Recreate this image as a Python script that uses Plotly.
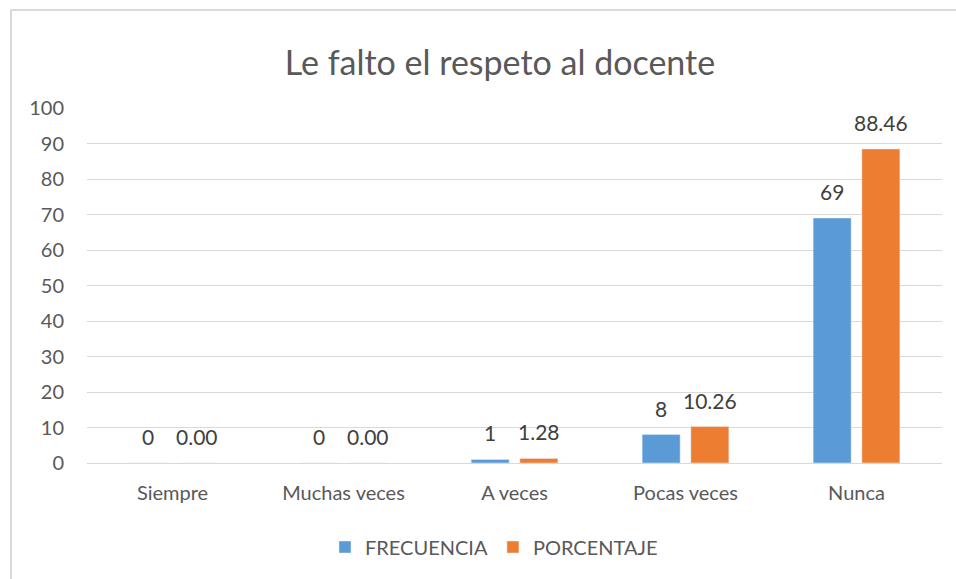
import plotly.graph_objects as go

categories = ["Siempre", "Muchas veces", "A veces", "Pocas veces", "Nunca"]
frecuencia = [0, 0, 1, 8, 69]
porcentaje = [0.00, 0.00, 1.28, 10.26, 88.46]

W, H = 956, 579
L, R, T, B = 87, 14, 108, 116
pw, ph = W - L - R, H - T - B

fig = go.Figure()
fig.add_trace(go.Bar(x=categories, y=frecuencia, name="FRECUENCIA", marker_color="#5b9bd5"))
fig.add_trace(go.Bar(x=categories, y=porcentaje, name="PORCENTAJE", marker_color="#ed7d31"))

# data labels sitting a bit above the bars, like Excel
slot = pw / len(categories) * (1 - 0.43) / 2
for vals, fmt, dx in [(frecuencia, "{:.0f}", -slot / 2), (porcentaje, "{:.2f}", slot / 2)]:
    for c, v in zip(categories, vals):
        fig.add_annotation(x=c, y=v, text=fmt.format(v), showarrow=False,
                           xshift=dx, yshift=12, yanchor="bottom",
                           font=dict(size=21, color="#404040"))

fig.update_layout(
    width=W, height=H,
    margin=dict(l=L, r=R, t=T, b=B),
    paper_bgcolor="white", plot_bgcolor="white",
    font=dict(family="Lato, Carlito, sans-serif", color="#595959", size=20),
    title=dict(text="Le falto el respeto al docente", x=500 / W, xref="container",
               xanchor="center", y=1 - 63 / H, yanchor="middle",
               font=dict(size=34, color="#595959")),
    barmode="group", bargap=0.43, bargroupgap=0.22,
    showlegend=True,
    legend=dict(orientation="h", x=(494 - L) / pw, xanchor="center", y=-(547 - 463) / ph,
                yanchor="middle", font=dict(size=20, color="#595959"),
                itemwidth=30, traceorder="normal"),
    xaxis=dict(showgrid=False, showline=False, ticks="", tickfont=dict(size=20),
               ticklabelstandoff=16),
    yaxis=dict(range=[0, 100], dtick=10, showgrid=True, gridcolor="#d9d9d9",
               gridwidth=1.3, zeroline=True, zerolinecolor="#d9d9d9", zerolinewidth=1.3,
               showline=False, ticks="", tickfont=dict(size=20), ticklabelstandoff=22),
)

# chart area border
fig.add_shape(type="rect", xref="paper", yref="paper",
              x0=(11 - L) / pw, x1=(W + 40 - L) / pw,
              y0=-(H + 40 - T - ph) / ph, y1=1 + (T - 10) / ph,
              line=dict(color="#d9d9d9", width=2), fillcolor="rgba(0,0,0,0)", layer="below")

fig.write_html("out.html", config={"displayModeBar": False},
               post_script="document.body.style.margin='0';")
